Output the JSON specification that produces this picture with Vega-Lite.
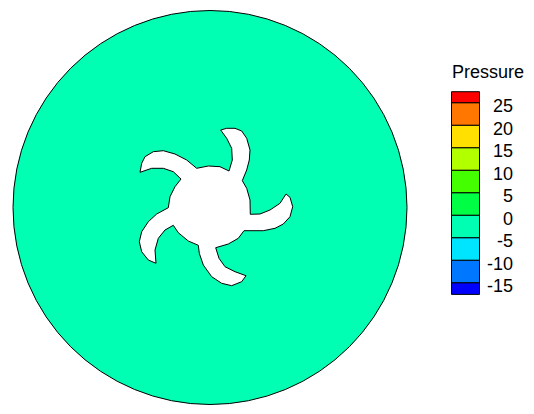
{"$schema":"https://vega.github.io/schema/vega-lite/v6.json","width":534,"height":414,"padding":0,"autosize":"none","background":"white","view":{"stroke":null},"config":{"font":"Liberation Sans"},"resolve":{"scale":{"y":"independent"}},"layer":[
{"data":{"values":[{"x":210,"y":207.5}]},"mark":{"type":"point","filled":true,"fill":"#00ffb2","stroke":"black","strokeWidth":1,"opacity":1,"size":155236},"encoding":{"x":{"field":"x","type":"quantitative","scale":{"domain":[0,534]},"axis":null},"y":{"field":"y","type":"quantitative","scale":{"domain":[414,0]},"axis":null}}},
{"data":{"values":[{"i":0,"x":220.7,"y":130},{"i":1,"x":226.7,"y":128.3},{"i":2,"x":235,"y":128.3},{"i":3,"x":241.7,"y":131},{"i":4,"x":246.7,"y":138.3},{"i":5,"x":250,"y":150},{"i":6,"x":249.3,"y":160},{"i":7,"x":246.7,"y":170},{"i":8,"x":242.3,"y":180.7},{"i":9,"x":246.7,"y":188.3},{"i":10,"x":250,"y":200},{"i":11,"x":250.3,"y":214.3},{"i":12,"x":260,"y":214},{"i":13,"x":270,"y":210},{"i":14,"x":280,"y":203.3},{"i":15,"x":286,"y":194},{"i":16,"x":290,"y":197.3},{"i":17,"x":292.7,"y":206.7},{"i":18,"x":290,"y":216.7},{"i":19,"x":283.3,"y":224},{"i":20,"x":275,"y":228.3},{"i":21,"x":263.3,"y":230.7},{"i":22,"x":244,"y":230.7},{"i":23,"x":238.3,"y":238.3},{"i":24,"x":228.3,"y":244},{"i":25,"x":215.7,"y":247.7},{"i":26,"x":219,"y":258.3},{"i":27,"x":225,"y":266.7},{"i":28,"x":235,"y":271.7},{"i":29,"x":246,"y":275.7},{"i":30,"x":241.7,"y":281.7},{"i":31,"x":231.7,"y":285.7},{"i":32,"x":221.7,"y":283.3},{"i":33,"x":211.7,"y":276.7},{"i":34,"x":203.3,"y":265},{"i":35,"x":199.3,"y":253.3},{"i":36,"x":198.3,"y":245.3},{"i":37,"x":188.3,"y":241},{"i":38,"x":178.3,"y":232.7},{"i":39,"x":173.3,"y":225.3},{"i":40,"x":165,"y":230},{"i":41,"x":158.3,"y":238.3},{"i":42,"x":155,"y":250},{"i":43,"x":156,"y":263.3},{"i":44,"x":148.3,"y":260},{"i":45,"x":141.7,"y":251.7},{"i":46,"x":139.3,"y":241.7},{"i":47,"x":141.7,"y":231.7},{"i":48,"x":148.3,"y":221.7},{"i":49,"x":156.7,"y":214},{"i":50,"x":168.3,"y":207.7},{"i":51,"x":170,"y":196.7},{"i":52,"x":175,"y":186.7},{"i":53,"x":181,"y":179},{"i":54,"x":173.3,"y":171.7},{"i":55,"x":163.3,"y":168.3},{"i":56,"x":151.7,"y":168.3},{"i":57,"x":140,"y":172.3},{"i":58,"x":141.7,"y":163.3},{"i":59,"x":145,"y":156.7},{"i":60,"x":153.3,"y":151.7},{"i":61,"x":163.3,"y":150.7},{"i":62,"x":175,"y":154},{"i":63,"x":186.7,"y":160},{"i":64,"x":196.7,"y":168.3},{"i":65,"x":208.3,"y":166},{"i":66,"x":220,"y":166.7},{"i":67,"x":229,"y":171},{"i":68,"x":232.3,"y":160},{"i":69,"x":231.7,"y":148.3},{"i":70,"x":226.7,"y":138.3},{"i":71,"x":220.7,"y":130}]},"mark":{"type":"line","fill":"white","stroke":"black","strokeWidth":1,"interpolate":"linear"},"encoding":{"x":{"field":"x","type":"quantitative","scale":{"domain":[0,534]},"axis":null},"y":{"field":"y","type":"quantitative","scale":{"domain":[414,0]},"axis":null},"order":{"field":"i","type":"quantitative"}}},
{"data":{"values":[{"level":"-17.5","lo":-17.6,"hi":-15},{"level":"-15","lo":-15,"hi":-10},{"level":"-10","lo":-10,"hi":-5},{"level":"-5","lo":-5,"hi":0},{"level":"0","lo":0,"hi":5},{"level":"5","lo":5,"hi":10},{"level":"10","lo":10,"hi":15},{"level":"15","lo":15,"hi":20},{"level":"20","lo":20,"hi":25},{"level":"25","lo":25,"hi":27.44}]},"mark":{"type":"rect","stroke":"black","strokeWidth":1,"opacity":1},"encoding":{"x":{"datum":451.5,"type":"quantitative","scale":{"domain":[0,534]},"axis":null},"x2":{"datum":479.5},"y":{"field":"lo","type":"quantitative","scale":{"domain":[-44.18,47.82]},"axis":null},"y2":{"field":"hi"},"color":{"field":"level","type":"nominal","legend":null,"scale":{"domain":["-17.5","-15","-10","-5","0","5","10","15","20","25"],"range":["#0000ff","#0077ff","#00e5ff","#00ffb2","#00ff44","#44ff00","#b2ff00","#ffe000","#ff7700","#ff0000"]}}}},
{"data":{"values":[{"p":25,"label":"25"},{"p":20,"label":"20"},{"p":15,"label":"15"},{"p":10,"label":"10"},{"p":5,"label":"5"},{"p":0,"label":"0"},{"p":-5,"label":"-5"},{"p":-10,"label":"-10"},{"p":-15,"label":"-15"}]},"mark":{"type":"text","align":"right","baseline":"middle","fontSize":18,"font":"Liberation Sans","dy":4.5,"color":"black"},"encoding":{"x":{"datum":513,"type":"quantitative","scale":{"domain":[0,534]},"axis":null},"y":{"field":"p","type":"quantitative","scale":{"domain":[-44.18,47.82]},"axis":null},"text":{"field":"label"}}},
{"data":{"values":[{"t":"Pressure"}]},"mark":{"type":"text","align":"center","baseline":"middle","fontSize":18,"font":"Liberation Sans","color":"black"},"encoding":{"x":{"datum":488,"type":"quantitative","scale":{"domain":[0,534]},"axis":null},"y":{"datum":73,"type":"quantitative","scale":{"domain":[414,0]},"axis":null},"text":{"field":"t"}}}
]}
